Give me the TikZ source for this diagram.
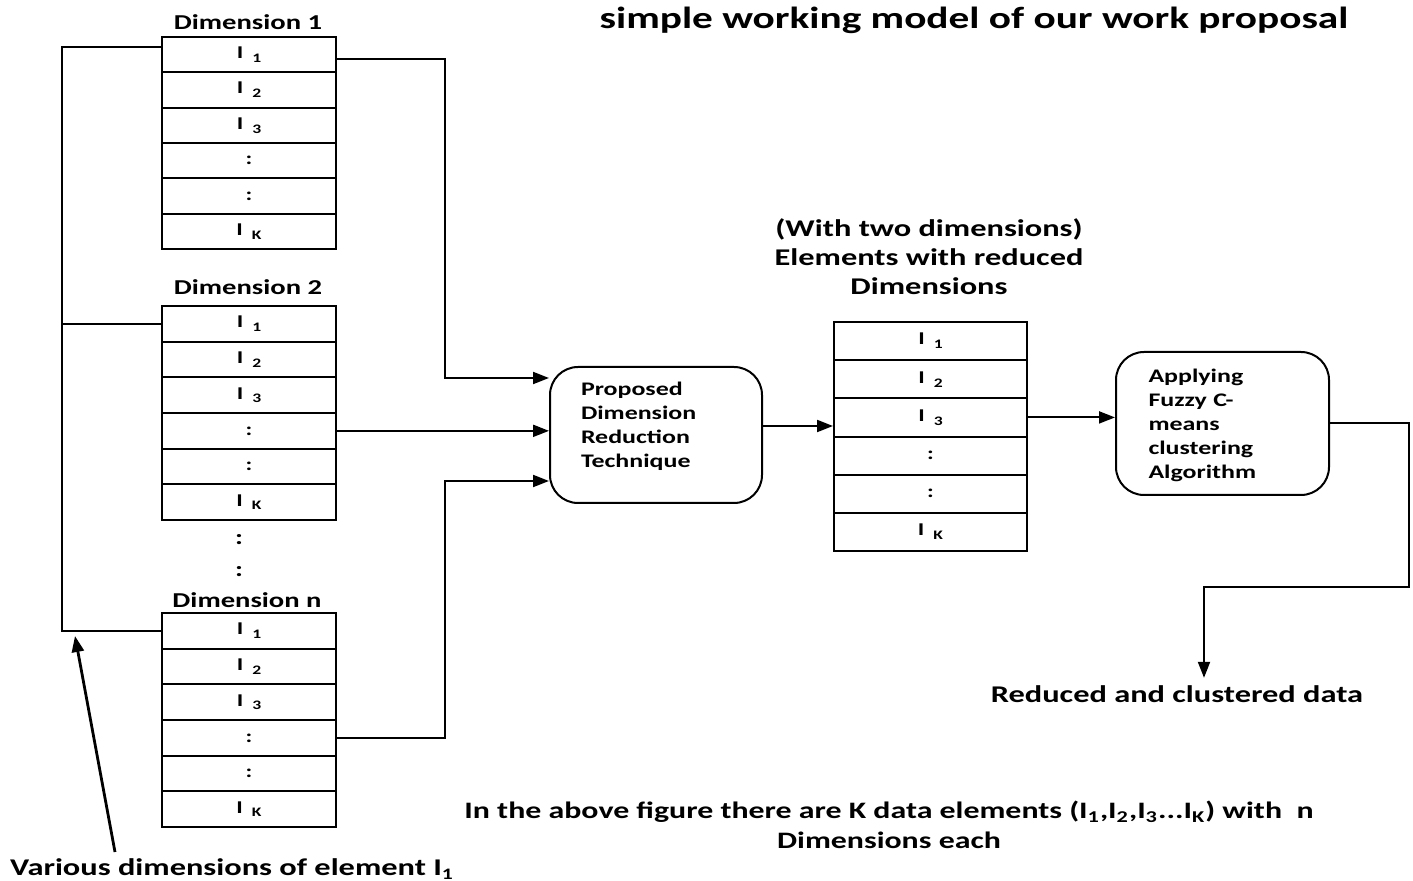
\documentclass[tikz,border=0pt]{standalone}
\usepackage{fontspec}
\setmainfont{Carlito}[FakeStretch=1.35]
\usetikzlibrary{arrows.meta,calc}
\newcommand\lsub[1]{\raisebox{-0.45ex}{\fontsize{6.5}{7}\selectfont #1}}
% name, x centre (px), y top (px), row height (px), row height (pt), width (pt)
\newcommand\mkstack[6]{%
  \foreach \i/\t in {1/{I\enspace\lsub{1}},2/{I\enspace\lsub{2}},3/{I\enspace\lsub{3}},4/{:},5/{:},6/{I\enspace\lsub{K}}}{%
    \node[cell, minimum width=#6, minimum height=#5] (#1-\i) at (#2,{#3+(\i-0.5)*#4}) {\t};}}
\begin{document}
\begin{tikzpicture}[x=0.5pt,y=-0.5pt, line width=1pt,
  every node/.style={font=\bfseries},
  cell/.style={draw, rectangle, inner sep=0pt, font=\bfseries\fontsize{9}{10}\selectfont},
  head/.style={font=\bfseries\fontsize{10.6}{12}\selectfont},
  procbox/.style={draw, rounded corners=14pt, minimum width=106pt, minimum height=68pt,
     text width=75pt, inner sep=0pt, align=left, font=\bfseries\fontsize{9.6}{12}\selectfont},
  big/.style={font=\bfseries\fontsize{12}{14}\selectfont},
  arr/.style={-{Triangle[length=8pt,width=6pt]}}]
\useasboundingbox (0,0) rectangle (1413,881);

% title
\node[font=\bfseries\fontsize{15.3}{17}\selectfont] (title) at (974,20) {simple working model of our work proposal};

% left stacks
\node[head] (h1) at (248,22) {Dimension 1};
\mkstack{a}{249}{37}{35.33}{17.67pt}{87pt}
\node[head] (h2) at (248,287) {Dimension 2};
\mkstack{b}{249}{306}{35.67}{17.83pt}{87pt}
\node[head] (d1) at (239,540) {:};
\node[head] (d2) at (239,572) {:};
\node[head] (hn) at (247,600) {Dimension n};
\mkstack{c}{249}{613}{35.67}{17.83pt}{87pt}

% left bracket
\path (c-1.west) ++(-99,0) coordinate (brb);
\draw ([yshift=4pt]a-1.west) -| (brb) -- (c-1.west);
\draw (b-1.west) -- (b-1.west -| brb);
\node[big] (various) at (232,869) {Various dimensions of element I\textsubscript{1}};
\coordinate (vt) at (115,852);
\draw[arr, line width=1.4pt] (vt) -- (75,636);

% process box
\node[procbox, text depth=46pt] (p) at (656,435) {Proposed\\Dimension\\Reduction\\Technique};
\coordinate (j1) at (445,378);
\coordinate (j3) at (445,481);
\draw[arr] ([yshift=-2pt]a-1.east) -| (j1) -- (p.west |- j1);
\draw[arr] (b-4.east) -- (p.west |- b-4.east);
\draw[arr] (c-4.east) -| (j3) -- (p.west |- j3);

% reduced stack
\node[align=center, font=\bfseries\fontsize{12}{14.5}\selectfont] (rl) at (929,257) {(With two dimensions)\\Elements with reduced\\Dimensions};
\mkstack{r}{930.5}{322}{38.17}{19.08pt}{96.5pt}
\draw[arr] ([yshift=4.5pt]p.east) -- ([yshift=4.5pt]p.east -| r-1.west);

% clustering box
\node[procbox, minimum width=106.5pt, minimum height=71.5pt, text width=74pt, text depth=48pt] (q) at (1222.5,423.5) {Applying\\Fuzzy C-\\means\\clustering\\Algorithm};
\draw[arr] (r-3.east) -- (q.west |- r-3.east);

% output
\node[big] (out) at (1177,694) {Reduced and clustered data};
\coordinate (k1) at (1409,587);
\coordinate (k2) at (1204,587);
\draw[arr] (q.east) -| (k1) -- (k2) -- (k2 |- out.north);

% note
\node[align=center, font=\bfseries\fontsize{11.8}{15}\selectfont] (note) at (889,825)
  {In the above figure there are K data elements (I\textsubscript{1},I\textsubscript{2},I\textsubscript{3}...I\textsubscript{K}) with\ \ n\\Dimensions each};
\end{tikzpicture}
\end{document}
